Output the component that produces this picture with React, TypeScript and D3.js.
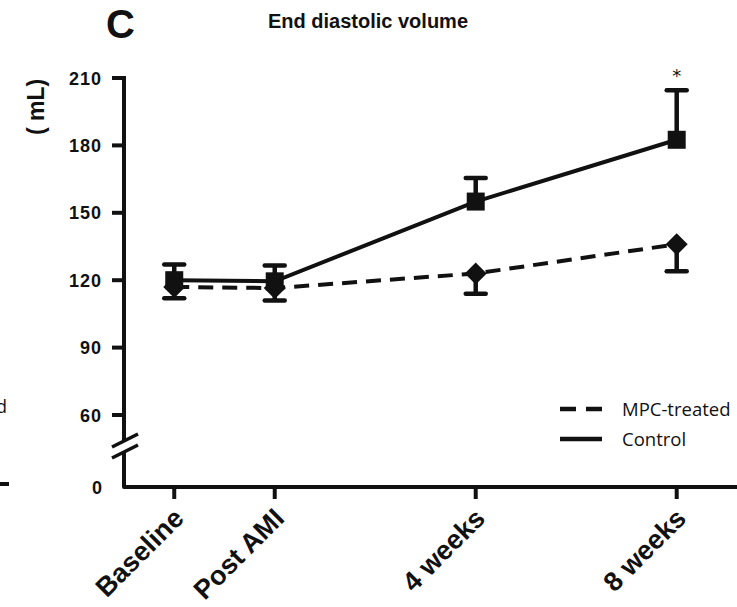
import React from 'react';
import * as d3 from 'd3';

// time points (weeks relative to AMI) and their labels
const categories = ['Baseline', 'Post AMI', '4 weeks', '8 weeks'];
const weeks = [-2, 0, 4, 8];

// End diastolic volume (mL), mean and one-sided error
const controlMean = [120, 119.5, 155, 182.5];
const controlErr = [7, 7, 10.5, 22];
const mpcMean = [117, 116.5, 123, 136];
const mpcErr = [5, 5.5, 9, 12];

const yTicks = [60, 90, 120, 150, 180, 210];
const significant = [false, false, false, true];

const W = 737;
const H = 607;
const axisX = 124;
const axisY = 487;

const x = d3.scaleLinear().domain([-3, 9.2]).range([axisX, W]);
const y = d3.scaleLinear().domain([60, 210]).range([415, 78]);
// lower stub of the broken axis, just the zero
const yLow = d3.scaleLinear().domain([0, 10]).range([axisY, 470]);

const boldFont = '"Liberation Sans", Arial, sans-serif';

const App = () => {
  const pts = (means: number[]) => means.map((m, i) => [x(weeks[i]), y(m)] as [number, number]);
  const line = d3.line();
  const ctrl = pts(controlMean);
  const mpc = pts(mpcMean);

  const capW = 10;
  const sq = 9;
  const dm = 11;

  return (
    <svg
      width={W}
      height={H}
      style={{ position: 'absolute', left: 0, top: 0, background: '#fff' }}
      fontFamily={boldFont}
    >
      {/* bits of the neighbouring panel at the left edge */}
      <text x={-4} y={413} fontSize={18} fontFamily='"Open Sans", sans-serif' fill="#111">d</text>
      <line x1={0} x2={9} y1={484} y2={484} stroke="#111" strokeWidth={4} />

      {/* panel letter and title */}
      <text x={106} y={38} fontSize={40} fontWeight="bold" fill="#111">C</text>
      <text x={368} y={28} fontSize={20} fontWeight="bold" textAnchor="middle" fill="#111">
        End diastolic volume
      </text>

      {/* y axis title */}
      <text
        transform={`translate(44,107) rotate(-90)`}
        fontSize={23}
        fontWeight="bold"
        textAnchor="middle"
        fill="#111"
      >
        ( mL)
      </text>

      {/* y axis, broken between 60 and 0 */}
      <g stroke="#111" strokeWidth={4} fill="none">
        <line x1={axisX} x2={axisX} y1={y(210) - 2} y2={440} />
        <line x1={axisX} x2={axisX} y1={452} y2={axisY} />
        <line x1={112} x2={138} y1={447} y2={434} strokeWidth={3.5} />
        <line x1={112} x2={138} y1={458} y2={445} strokeWidth={3.5} />
        {yTicks.map((t) => (
          <line key={t} x1={axisX - 12} x2={axisX} y1={y(t)} y2={y(t)} />
        ))}
        <line x1={axisX} x2={W} y1={axisY} y2={axisY} strokeLinecap="round" />
        {weeks.map((w) => (
          <line key={w} x1={x(w)} x2={x(w)} y1={axisY} y2={axisY + 12} />
        ))}
      </g>
      <g fontSize={18} fontWeight="bold" textAnchor="end" fill="#111">
        {yTicks.map((t) => (
          <text key={t} x={102} y={y(t) + 6.5} letterSpacing={1}>
            {t}
          </text>
        ))}
        <text x={102} y={yLow(0) + 6.5}>0</text>
      </g>

      {/* x tick labels */}
      <g fontSize={27} fontWeight="bold" textAnchor="end" fill="#111">
        {categories.map((c, i) => (
          <text key={c} transform={`translate(${x(weeks[i]) + 11},${520}) rotate(-45)`}>
            {c}
          </text>
        ))}
      </g>

      {/* error bars: control up, MPC down */}
      <g stroke="#111" strokeWidth={4.5}>
        {controlMean.map((m, i) => {
          const cx = x(weeks[i]);
          const top = y(m + controlErr[i]);
          return (
            <g key={'c' + i}>
              <line x1={cx} x2={cx} y1={y(m)} y2={top} />
              <line x1={cx - capW} x2={cx + capW} y1={top} y2={top} strokeLinecap="round" />
            </g>
          );
        })}
        {mpcMean.map((m, i) => {
          const cx = x(weeks[i]);
          const bot = y(m - mpcErr[i]);
          return (
            <g key={'m' + i}>
              <line x1={cx} x2={cx} y1={y(m)} y2={bot} />
              <line x1={cx - capW} x2={cx + capW} y1={bot} y2={bot} strokeLinecap="round" />
            </g>
          );
        })}
      </g>

      {/* lines */}
      <path d={line(mpc) ?? ''} fill="none" stroke="#111" strokeWidth={4} strokeDasharray="15,9" />
      <path d={line(ctrl) ?? ''} fill="none" stroke="#111" strokeWidth={4} />

      {/* markers */}
      {ctrl.map(([cx, cy], i) => (
        <rect key={'s' + i} x={cx - sq} y={cy - sq} width={sq * 2} height={sq * 2} fill="#111" />
      ))}
      {mpc.map(([cx, cy], i) => (
        <path
          key={'d' + i}
          d={`M${cx},${cy - dm}L${cx + dm},${cy}L${cx},${cy + dm}L${cx - dm},${cy}Z`}
          fill="#111"
        />
      ))}

      {/* significance */}
      {significant.map((s, i) =>
        s ? (
          <text key={'a' + i} x={x(weeks[i])} y={y(controlMean[i] + controlErr[i]) - 8} fontSize={18} textAnchor="middle" fill="#111" fontFamily='"DejaVu Sans", sans-serif'>
            *
          </text>
        ) : null
      )}

      {/* legend */}
      <g fontFamily='"Open Sans", sans-serif' fontSize={18.5} fill="#111">
        <line x1={560} x2={602} y1={409} y2={409} stroke="#111" strokeWidth={4.5} strokeDasharray="16,10" />
        <text x={622} y={415.5}>MPC-treated</text>
        <line x1={560} x2={602} y1={439} y2={439} stroke="#111" strokeWidth={4.5} />
        <text x={622} y={445.5}>Control</text>
      </g>
    </svg>
  );
};

export default App;
